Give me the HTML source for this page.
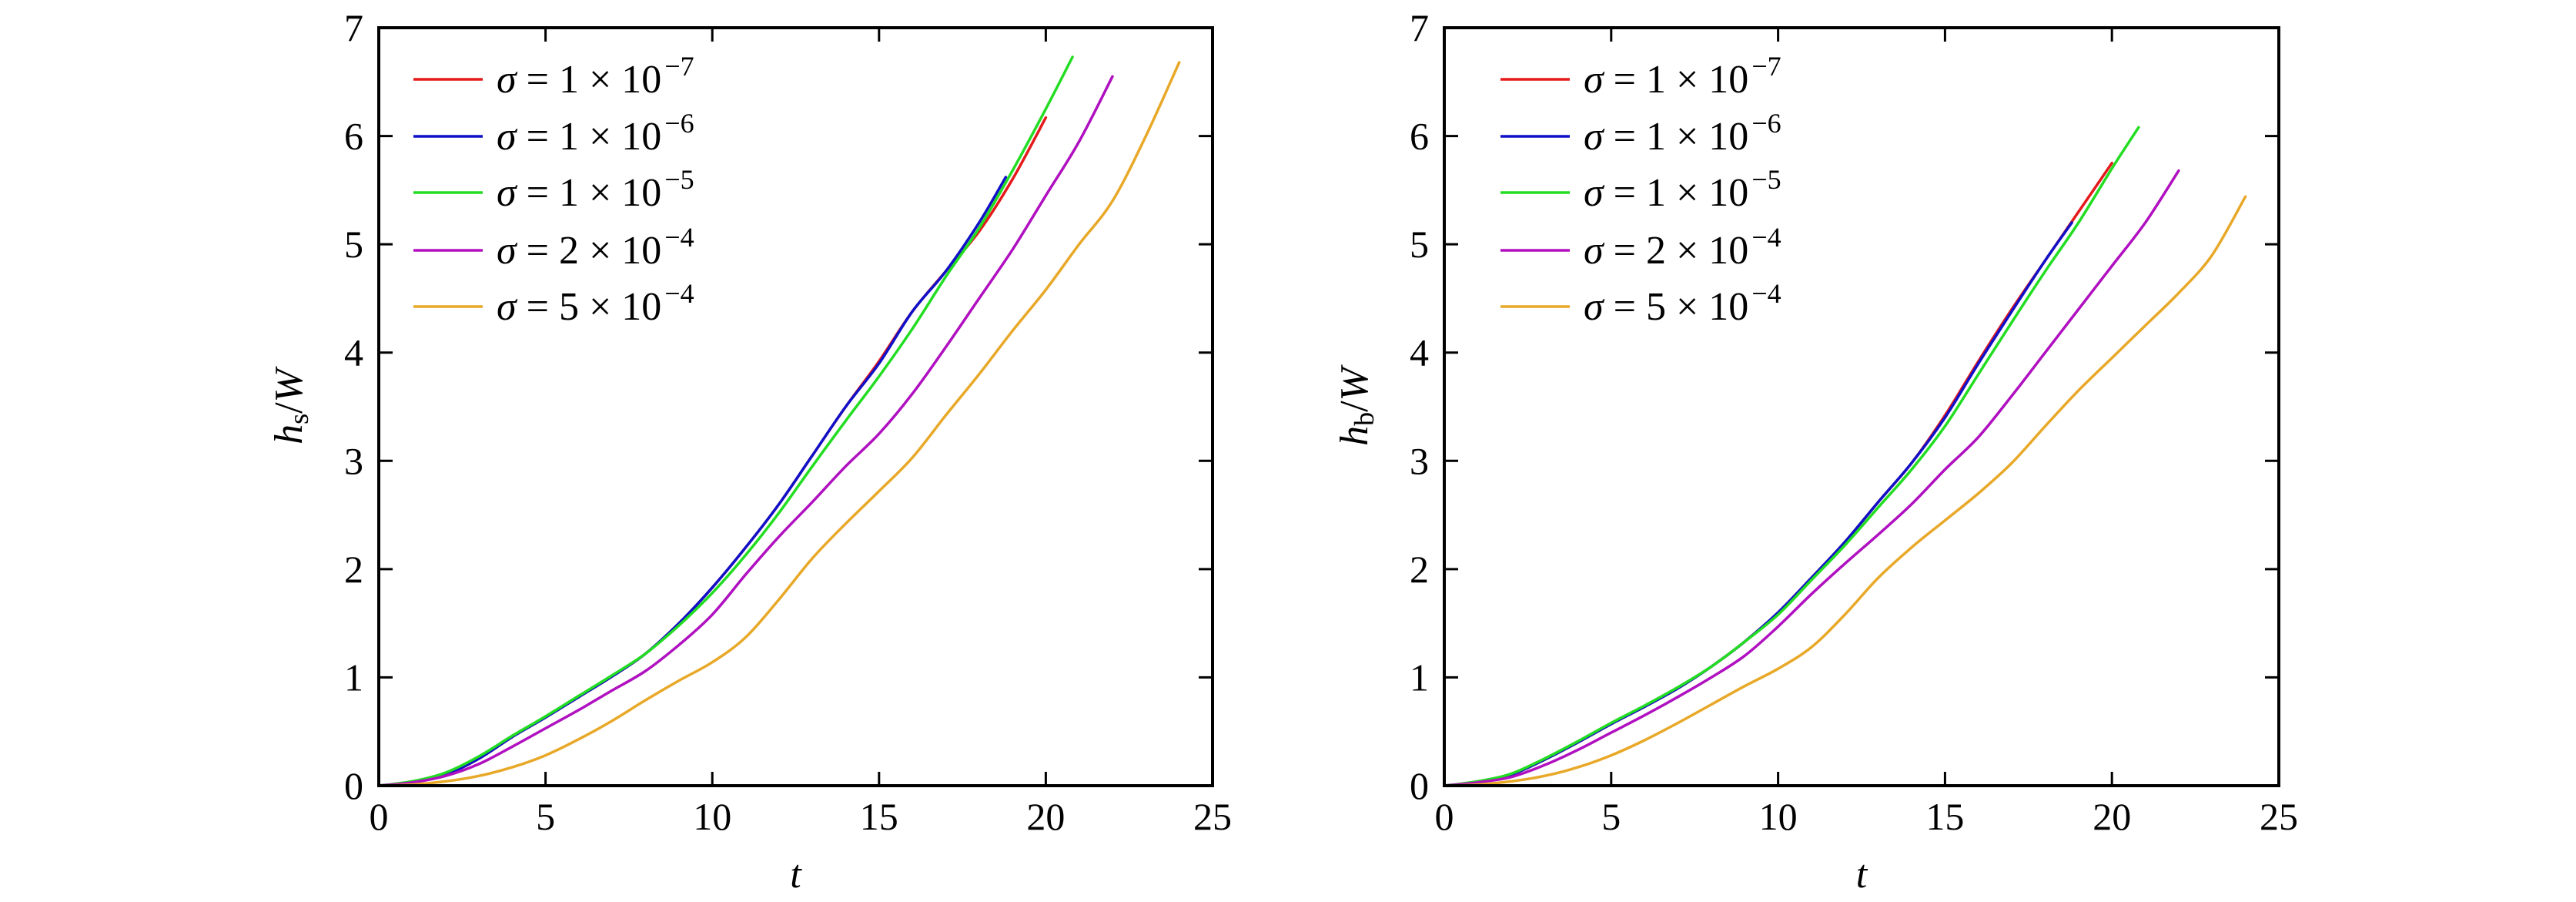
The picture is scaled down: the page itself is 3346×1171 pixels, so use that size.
<!DOCTYPE html>
<html><head><meta charset="utf-8"><style>
html,body{margin:0;padding:0;background:#fff}
svg{display:block}
text{font-family:"Liberation Serif","DejaVu Serif",serif;fill:#000}
</style></head><body>
<svg id="fig" width="3346" height="1171" viewBox="0 0 3346 1171" xmlns="http://www.w3.org/2000/svg"></svg>
<script>
const tA=[0,1,2,3,4,5,6,7,8,9,10,11,12,13,14,15,16,17,18,19,20,21,22,23,24];
const labels=["1","7","1","6","1","5","2","4","5","4"];
const colors=["#e41a1c","#1010c8","#22dd22","#b010c0","#e8a828"];
// left panel (h_s/W)
const L_red=[0,0.03,0.1,0.25,0.45,0.63,0.82,1.01,1.22,1.5,1.83,2.2,2.6,3.05,3.5,3.92,4.38,4.75,5.12,5.6,6.17];
const L_blue=[0,0.03,0.1,0.25,0.45,0.63,0.82,1.01,1.22,1.5,1.83,2.2,2.6,3.05,3.5,3.9,4.38,4.75,5.2,5.62];
const L_blueEnd=18.8;
const L_green=[0,0.04,0.12,0.27,0.46,0.64,0.83,1.02,1.22,1.48,1.78,2.13,2.52,2.95,3.37,3.78,4.22,4.7,5.15,5.68,6.25,6.73];
const L_greenEnd=20.8;
const L_mag=[0,0.03,0.09,0.2,0.36,0.53,0.7,0.88,1.06,1.3,1.58,1.95,2.3,2.62,2.95,3.25,3.62,4.05,4.5,4.95,5.45,5.95,6.55];
const L_orange=[0,0.01,0.04,0.09,0.17,0.28,0.43,0.6,0.79,0.97,1.14,1.37,1.72,2.1,2.42,2.72,3.03,3.42,3.8,4.2,4.58,5.0,5.4,6.0,6.68];
// right panel (h_b/W)
const R_red=[0,0.03,0.1,0.24,0.4,0.57,0.73,0.9,1.1,1.33,1.6,1.92,2.25,2.62,2.98,3.42,3.92,4.4,4.85,5.3,5.75];
const R_blue=[0,0.03,0.1,0.24,0.4,0.57,0.73,0.9,1.1,1.33,1.6,1.92,2.25,2.62,2.98,3.4,3.9,4.38,4.85,5.2];
const R_blueEnd=18.8;
const R_green=[0,0.04,0.11,0.25,0.41,0.58,0.74,0.91,1.1,1.33,1.58,1.9,2.22,2.57,2.92,3.32,3.8,4.28,4.75,5.2,5.7,6.08];
const R_greenEnd=20.8;
const R_mag=[0,0.03,0.08,0.19,0.33,0.49,0.65,0.82,1.0,1.2,1.47,1.77,2.05,2.32,2.6,2.92,3.22,3.6,4.0,4.4,4.8,5.2,5.68];
const R_orange=[0,0.01,0.04,0.09,0.17,0.28,0.42,0.58,0.75,0.92,1.08,1.28,1.58,1.92,2.2,2.45,2.7,2.98,3.32,3.65,3.95,4.25,4.55,4.9,5.44];
const xTicks=[0,5,10,15,20,25];
const yTicks=[0,1,2,3,4,5,6,7];

const NS="http://www.w3.org/2000/svg";
const svg=document.getElementById('fig');
function mk(tag,attrs,parent){const e=document.createElementNS(NS,tag);for(const k in attrs)e.setAttribute(k,attrs[k]);(parent||svg).appendChild(e);return e;}
function tvals(arr,end){return arr.map((v,i)=>(i===arr.length-1&&end!==undefined)?end:tA[i]);}
function pathD(pts){let d="M"+pts[0][0].toFixed(1)+","+pts[0][1].toFixed(1);
 for(let i=0;i<pts.length-1;i++){const p0=pts[Math.max(0,i-1)],p1=pts[i],p2=pts[i+1],p3=pts[Math.min(pts.length-1,i+2)];
  const c1=[p1[0]+(p2[0]-p0[0])/6,p1[1]+(p2[1]-p0[1])/6],c2=[p2[0]-(p3[0]-p1[0])/6,p2[1]-(p3[1]-p1[1])/6];
  d+="C"+c1[0].toFixed(1)+","+c1[1].toFixed(1)+" "+c2[0].toFixed(1)+","+c2[1].toFixed(1)+" "+p2[0].toFixed(1)+","+p2[1].toFixed(1);}
 return d;}

function panel(x0,x1,name,sub,series,legX){
 const y0=36,y1=1020;
 const X=t=>x0+(x1-x0)*t/25, Y=v=>y1-(y1-y0)*v/7;
 const g=mk('g',{});  
 series.forEach((s,k)=>{
  const ts=tvals(s.v,s.end);
  const p=mk('path',{d:pathD(s.v.map((v,i)=>[X(ts[i]),Y(v)])),fill:'none',stroke:colors[k],'stroke-width':3.5,'stroke-linejoin':'round','stroke-linecap':'round'},g);
   
 });
 const fr=mk('rect',{x:x0,y:y0,width:x1-x0,height:y1-y0,fill:'none',stroke:'#000','stroke-width':4},g);
  
 xTicks.forEach(t=>{
  mk('line',{x1:X(t),x2:X(t),y1:y1,y2:y1-18,stroke:'#000','stroke-width':3},g);
  mk('line',{x1:X(t),x2:X(t),y1:y0,y2:y0+18,stroke:'#000','stroke-width':3},g);
  const tx=mk('text',{x:X(t),y:1077,'font-size':50,'text-anchor':'middle'},g); tx.textContent=t;
   
 });
 yTicks.forEach(v=>{
  mk('line',{x1:x0,x2:x0+18,y1:Y(v),y2:Y(v),stroke:'#000','stroke-width':3},g);
  mk('line',{x1:x1,x2:x1-18,y1:Y(v),y2:Y(v),stroke:'#000','stroke-width':3},g);
  const tx=mk('text',{x:x0-20,y:Y(v)+17,'font-size':50,'text-anchor':'end'},g); tx.textContent=v;
   
 });
 const xl=mk('text',{x:(x0+x1)/2,y:1152,'font-size':52,'font-style':'italic','text-anchor':'middle'},g); xl.textContent='t';
  
 const yl=mk('text',{transform:`translate(${x0-100},${(y0+y1)/2}) rotate(-90)`,'font-size':52,'text-anchor':'middle'},g);
  
 yl.innerHTML=`<tspan font-style="italic">h</tspan><tspan font-size="36" dy="8">${sub}</tspan><tspan dy="-8">/</tspan><tspan font-style="italic">W</tspan>`;
 const lg=mk('g',{},g);  
 [103,177,250,325,398].forEach((ly,k)=>{
  mk('line',{x1:legX,x2:legX+90,y1:ly,y2:ly,stroke:colors[k],'stroke-width':3.5},lg);
  const tx=mk('text',{x:legX+108,y:ly+17,'font-size':52},lg);
   
  tx.innerHTML=`<tspan font-style="italic">σ</tspan> = ${labels[2*k]} × 10<tspan font-size="36" dy="-22" dx="4">−${labels[2*k+1]}</tspan>`;
 });
}
panel(492,1575,'left','s',[{v:L_red},{v:L_blue,end:L_blueEnd},{v:L_green,end:L_greenEnd},{v:L_mag},{v:L_orange}],537);
panel(1876,2960,'right','b',[{v:R_red},{v:R_blue,end:R_blueEnd},{v:R_green,end:R_greenEnd},{v:R_mag},{v:R_orange}],1949);
</script>
</body></html>
